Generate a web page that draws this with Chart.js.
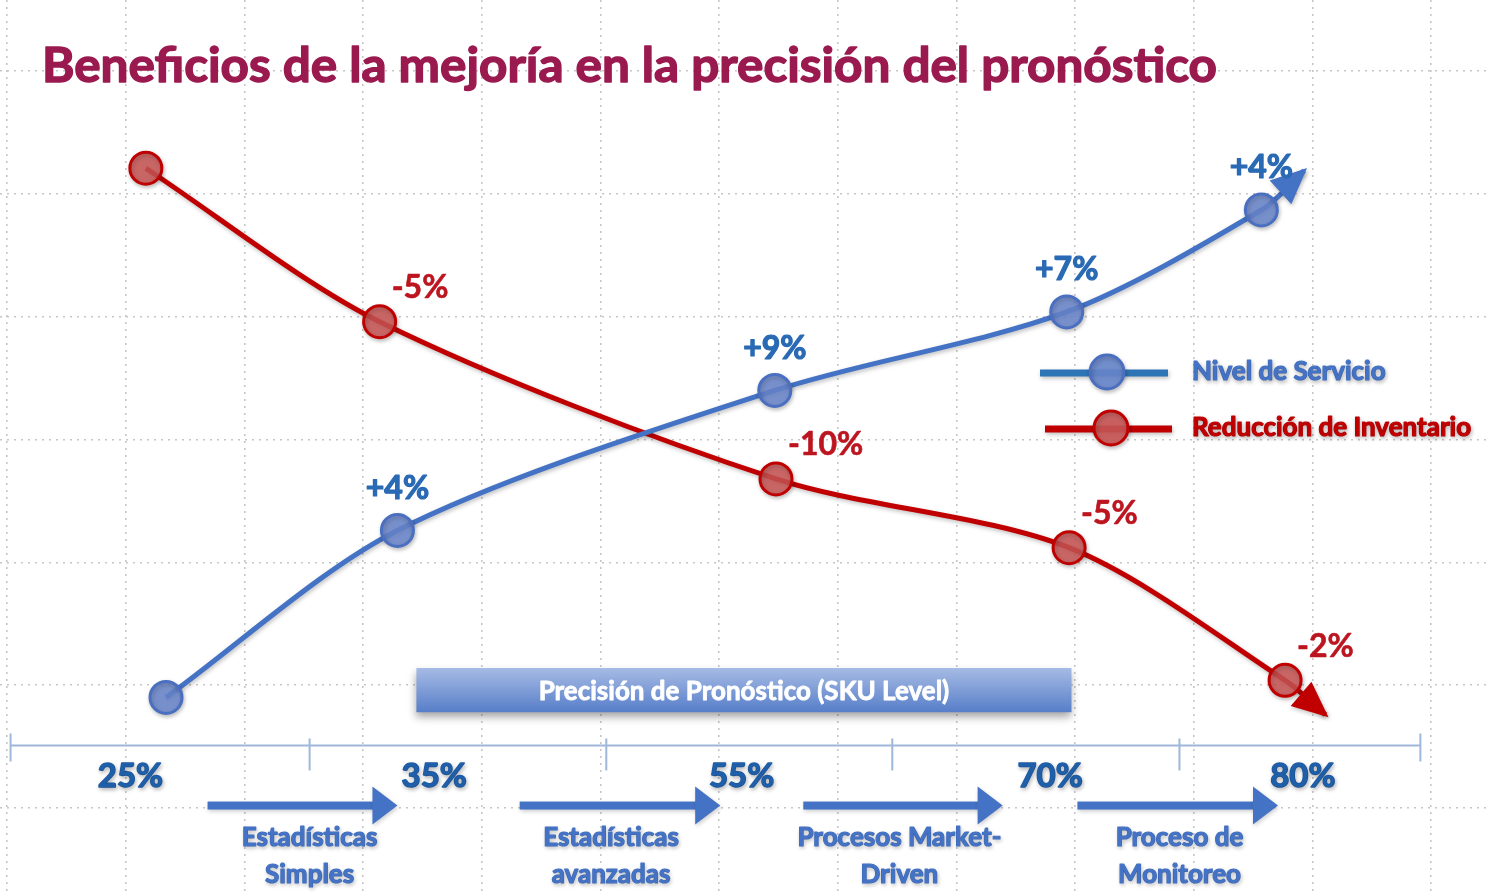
<!DOCTYPE html>
<html lang="es">
<head>
<meta charset="utf-8">
<title>Beneficios de la mejoría en la precisión del pronóstico</title>
<script src="https://cdn.jsdelivr.net/npm/chart.js@4.4.1/dist/chart.umd.min.js"></script>
<style>
  html, body { margin: 0; padding: 0; background: #fff; }
  #wrap { width: 1486px; height: 892px; }
</style>
</head>
<body>
<div id="wrap"><canvas id="chart" width="1486" height="892"></canvas></div>
<script>
// values are in grid units (one dotted grid cell = 1)
// last point of each series is where the arrow head ends
const serviceX = [1.34, 3.29, 6.47, 8.93, 10.57, 10.93];
const serviceY = [0.90, 2.26, 3.40, 4.04, 4.87, 5.19];
const serviceLabels = ['', '+4%', '+9%', '+7%', '+4%', ''];

const inventoryX = [1.17, 3.14, 6.48, 8.95, 10.77, 11.11];
const inventoryY = [5.21, 3.96, 2.68, 2.12, 1.04, 0.76];
const inventoryLabels = ['', '-5%', '-10%', '-5%', '-2%', ''];

const accuracyTicks = ['25%', '35%', '55%', '70%', '80%'];
const accuracyTickX = [1.04, 3.60, 6.19, 8.79, 10.92];
const axisMarkX = [0.03, 2.55, 5.05, 7.46, 9.88, 11.91];

const stageNames = [['Estadísticas', 'Simples'], ['Estadísticas', 'avanzadas'], ['Procesos Market-', 'Driven'], ['Proceso de', 'Monitoreo']];
const stageFrom = [1.69, 4.32, 6.71, 9.02];
const stageTo = [3.29, 6.01, 8.39, 10.71];
const stageLabelX = [2.55, 5.09, 7.52, 9.88];

const BLUE = '#4472c4';
const RED = '#c00000';
const FONT = 'Lato, "Open Sans", sans-serif';

const toPoints = (xs, ys) => xs.map((x, i) => ({ x, y: ys[i] }));
const markerSizes = (xs) => xs.map((_, i) => (i === xs.length - 1 ? 0 : 16));

function arrowHead(ctx, tipX, tipY, fromX, fromY, len, half, color) {
  const a = Math.atan2(tipY - fromY, tipX - fromX);
  ctx.save();
  ctx.translate(tipX, tipY);
  ctx.rotate(a);
  ctx.fillStyle = color;
  ctx.beginPath();
  ctx.moveTo(0, 0);
  ctx.lineTo(-len, -half);
  ctx.lineTo(-len, half);
  ctx.closePath();
  ctx.fill();
  ctx.restore();
}

function softShadow(ctx, alpha) {
  ctx.shadowColor = 'rgba(0,0,0,' + alpha + ')';
  ctx.shadowBlur = 4;
  ctx.shadowOffsetX = 1;
  ctx.shadowOffsetY = 2;
}

// heavier text: fill plus a thin stroke of the same colour
function boldText(ctx, text, x, y, weight) {
  ctx.strokeStyle = ctx.fillStyle;
  ctx.lineWidth = weight || 1.2;
  ctx.lineJoin = 'round';
  ctx.strokeText(text, x, y);
  ctx.fillText(text, x, y);
}

const decorations = {
  id: 'decorations',
  beforeDatasetsDraw(chart) {
    const { ctx, scales: { x, y } } = chart;
    ctx.save();

    // banner
    const bx0 = x.getPixelForValue(3.45), bx1 = x.getPixelForValue(8.97);
    const by0 = y.getPixelForValue(1.14), by1 = y.getPixelForValue(0.78);
    const g = ctx.createLinearGradient(0, by0, 0, by1);
    g.addColorStop(0, '#a6bbe4');
    g.addColorStop(1, '#577ec9');
    ctx.save();
    ctx.shadowColor = 'rgba(0,0,0,0.35)';
    ctx.shadowBlur = 8;
    ctx.shadowOffsetY = 5;
    ctx.fillStyle = g;
    ctx.fillRect(bx0, by0, bx1 - bx0, by1 - by0);
    ctx.restore();
    ctx.fillStyle = '#fff';
    ctx.font = 'bold 26px ' + FONT;
    ctx.textAlign = 'center';
    ctx.textBaseline = 'middle';
    boldText(ctx, 'Precisión de Pronóstico (SKU Level)', (bx0 + bx1) / 2, (by0 + by1) / 2 + 1, 0.8);

    // accuracy axis
    const ay = y.getPixelForValue(0.51);
    ctx.strokeStyle = '#9fb8da';
    ctx.lineWidth = 2;
    ctx.beginPath();
    ctx.moveTo(x.getPixelForValue(axisMarkX[0]), ay);
    ctx.lineTo(x.getPixelForValue(axisMarkX[axisMarkX.length - 1]), ay);
    axisMarkX.forEach((v, i) => {
      const px = x.getPixelForValue(v);
      const end = i === 0 || i === axisMarkX.length - 1;
      ctx.moveTo(px, ay - (end ? 12 : 7));
      ctx.lineTo(px, ay + (end ? 16 : 25));
    });
    ctx.stroke();

    ctx.save();
    softShadow(ctx, 0.25);
    ctx.fillStyle = '#1f5ea8';
    ctx.font = 'bold 33px ' + FONT;
    accuracyTicks.forEach((t, i) => {
      boldText(ctx, t, x.getPixelForValue(accuracyTickX[i]), ay + 31, 1.4);
    });
    ctx.restore();

    // stage arrows
    const sy = y.getPixelForValue(0.02);
    stageNames.forEach((lines, i) => {
      const x0 = x.getPixelForValue(stageFrom[i]);
      const x1 = x.getPixelForValue(stageTo[i]);
      ctx.save();
      softShadow(ctx, 0.2);
      ctx.fillStyle = BLUE;
      ctx.fillRect(x0, sy - 4, x1 - x0 - 22, 8);
      arrowHead(ctx, x1, sy, x0, sy, 25, 19, BLUE);
      ctx.font = 'bold 26px ' + FONT;
      ctx.fillStyle = BLUE;
      const cx = x.getPixelForValue(stageLabelX[i]);
      boldText(ctx, lines[0], cx, y.getPixelForValue(-0.24), 1.2);
      boldText(ctx, lines[1], cx, y.getPixelForValue(-0.54), 1.2);
      ctx.restore();
    });

    ctx.restore();
  },
  beforeDatasetDraw(chart) {
    const { ctx } = chart;
    ctx.save();
    softShadow(chart.ctx, 0.25);
  },
  afterDatasetDraw(chart) {
    chart.ctx.restore();
  },
  afterDatasetsDraw(chart) {
    const { ctx } = chart;
    ctx.save();

    chart.data.datasets.forEach((ds, di) => {
      const pts = chart.getDatasetMeta(di).data;
      const tip = pts[pts.length - 1];
      const fromX = tip.cp1x !== undefined ? tip.cp1x : pts[pts.length - 2].x;
      const fromY = tip.cp1y !== undefined ? tip.cp1y : pts[pts.length - 2].y;
      ctx.save();
      softShadow(ctx, 0.25);
      const a = Math.atan2(tip.y - fromY, tip.x - fromX);
      arrowHead(ctx, tip.x + Math.cos(a) * 4, tip.y + Math.sin(a) * 4, fromX, fromY, 36, 16, ds.borderColor);
      ctx.restore();

      ctx.font = 'bold 32px ' + FONT;
      ctx.textBaseline = 'middle';
      ds.valueLabels.forEach((t, i) => {
        if (!t) return;
        const p = pts[i];
        if (di === 0) {
          ctx.fillStyle = '#2a6ab4';
          ctx.textAlign = 'center';
          boldText(ctx, t, p.x, p.y - 42, 1.2);
        } else {
          ctx.fillStyle = '#bd1520';
          ctx.textAlign = 'left';
          boldText(ctx, t, p.x + 12, p.y - 34, 0.6);
        }
      });
    });

    // legend
    const rows = [
      { y: 373, x0: 1040, x1: 1168, cx: 1107, line: '#2e75b6', fill: 'rgba(104,134,204,0.9)', edge: '#4a6fc0', text: BLUE },
      { y: 429, x0: 1045, x1: 1172, cx: 1111, line: RED, fill: 'rgba(200,84,84,0.9)', edge: RED, text: RED }
    ];
    rows.forEach((r, i) => {
      ctx.save();
      softShadow(ctx, 0.25);
      ctx.strokeStyle = r.line;
      ctx.lineWidth = 7;
      ctx.beginPath();
      ctx.moveTo(r.x0, r.y);
      ctx.lineTo(r.x1, r.y);
      ctx.stroke();
      ctx.beginPath();
      ctx.arc(r.cx, r.y - 1, 17, 0, Math.PI * 2);
      ctx.fillStyle = r.fill;
      ctx.fill();
      ctx.lineWidth = 3;
      ctx.strokeStyle = r.edge;
      ctx.stroke();
      ctx.fillStyle = r.text;
      ctx.font = 'bold 26px ' + FONT;
      ctx.textAlign = 'left';
      ctx.textBaseline = 'middle';
      boldText(ctx, chart.data.datasets[i].label, 1192, r.y - 1, 1.2);
      ctx.restore();
    });

    // title
    const title = 'Beneficios de la mejoría en la precisión del pronóstico';
    ctx.font = 'bold 48px ' + FONT;
    ctx.textAlign = 'left';
    ctx.textBaseline = 'alphabetic';
    ctx.fillStyle = '#9a1a4f';
    const w = ctx.measureText(title).width;
    ctx.save();
    ctx.translate(42, 82);
    ctx.scale(1175 / w, 1);
    boldText(ctx, title, 0, 0, 1.4);
    ctx.restore();

    ctx.restore();
  }
};

const gridStyle = { color: '#c6c6c6', lineWidth: 1.6, drawTicks: false };
const borderStyle = { display: false, dash: [2, 5] };

new Chart(document.getElementById('chart'), {
  type: 'line',
  data: {
    datasets: [
      {
        label: 'Nivel de Servicio',
        data: toPoints(serviceX, serviceY),
        valueLabels: serviceLabels,
        borderColor: BLUE,
        borderWidth: 5,
        tension: 0.3,
        pointRadius: markerSizes(serviceX),
        pointBackgroundColor: 'rgba(104,134,204,0.85)',
        pointBorderColor: '#4a6fc0',
        pointBorderWidth: 3
      },
      {
        label: 'Reducción de Inventario',
        data: toPoints(inventoryX, inventoryY),
        valueLabels: inventoryLabels,
        borderColor: RED,
        borderWidth: 5,
        tension: 0.3,
        pointRadius: markerSizes(inventoryX),
        pointBackgroundColor: 'rgba(200,84,84,0.85)',
        pointBorderColor: RED,
        pointBorderWidth: 3
      }
    ]
  },
  options: {
    responsive: false,
    animation: false,
    layout: { padding: 0, autoPadding: false },
    scales: {
      x: {
        type: 'linear',
        min: -0.059,
        max: 12.463,
        ticks: { display: false, stepSize: 1, includeBounds: false },
        grid: gridStyle,
        border: borderStyle
      },
      y: {
        type: 'linear',
        min: -0.684,
        max: 6.58,
        ticks: { display: false, stepSize: 1, includeBounds: false },
        grid: gridStyle,
        border: borderStyle
      }
    },
    plugins: {
      legend: { display: false },
      tooltip: { enabled: false }
    }
  },
  plugins: [decorations]
});
</script>
</body>
</html>
